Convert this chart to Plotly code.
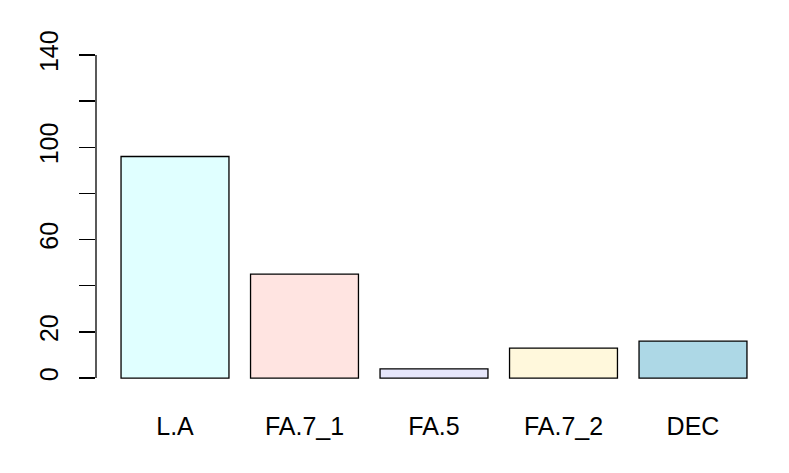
import plotly.graph_objects as go

categories = ["L.A", "FA.7_1", "FA.5", "FA.7_2", "DEC"]
values = [96, 45, 4, 13, 16]
colors = ["#E0FFFF", "#FFE4E1", "#E6E6FA", "#FFF8DC", "#ADD8E6"]
y_tick_vals = [0, 20, 40, 60, 80, 100, 120, 140]
y_tick_text = ["0", "20", "", "60", "", "100", "", "140"]

bar_width = 1.0
space = 0.2
centers = [space + bar_width / 2 + i * (bar_width + space) for i in range(len(categories))]
xmin, xmax = space, centers[-1] + bar_width / 2
xpad = (xmax - xmin) * 0.04
ymin, ymax = 0, 140
ypad = (ymax - ymin) * 0.04

fig = go.Figure(go.Bar(
    x=centers, y=values, width=bar_width,
    marker=dict(color=colors, line=dict(color="black", width=1.3)),
    hoverinfo="skip",
))

font = dict(family="Liberation Sans, Arial, sans-serif", size=25, color="black")

fig.update_layout(
    width=789, height=473,
    margin=dict(l=96, r=16.5, t=41.5, b=81.5, autoexpand=False),
    paper_bgcolor="white", plot_bgcolor="white",
    showlegend=False,
    font=font,
    bargap=0,
    xaxis=dict(
        range=[xmin - xpad, xmax + xpad],
        tickvals=centers, ticktext=categories,
        ticks="outside", ticklen=13, tickcolor="rgba(0,0,0,0)",
        showgrid=False, zeroline=False, showline=False,
        tickfont=font, automargin=False,
    ),
    yaxis=dict(
        range=[ymin - ypad, ymax + ypad],
        tickvals=y_tick_vals, ticktext=y_tick_text,
        ticks="outside", ticklen=16, tickwidth=1.3, tickcolor="black",
        tickangle=-90, ticklabelstandoff=11,
        showgrid=False, zeroline=False, showline=False,
        tickfont=font, automargin=False,
    ),
    shapes=[dict(
        type="line", xref="paper", yref="y",
        x0=0, x1=0, y0=ymin, y1=ymax,
        line=dict(color="black", width=1.3),
    )],
)

fig.write_html(
    "out.html",
    config={"displayModeBar": False, "staticPlot": True},
    post_script="document.body.style.margin='0';document.body.style.overflow='hidden';",
)
